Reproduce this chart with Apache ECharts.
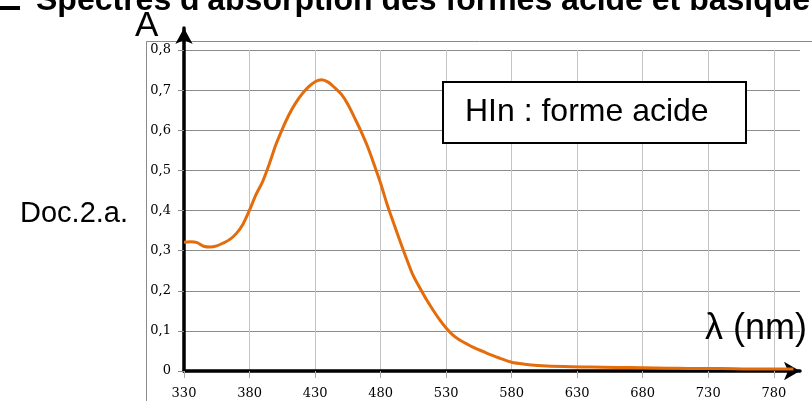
<!DOCTYPE html>
<html>
<head>
<meta charset="utf-8">
<script src="https://cdn.jsdelivr.net/npm/echarts@6/dist/echarts.min.js"></script>
<style>
html,body{margin:0;padding:0;background:#fff;}
#chart{width:812px;height:401px;}
</style>
</head>
<body>
<div id="chart"></div>
<script>
// Wavelength (nm) and absorbance of the acid form HIn
var lambdaNm = [330,335,340,345,350,355,360,365,370,375,380,385,390,395,400,405,410,415,420,425,430,435,440,445,450,455,460,465,470,475,480,485,490,495,500,505,510,515,520,525,530,535,540,545,550,560,570,580,590,600,620,640,660,680,700,720,740,760,780,795];
var absorbance = [0.321,0.322,0.320,0.311,0.309,0.312,0.319,0.328,0.343,0.366,0.401,0.440,0.472,0.515,0.563,0.603,0.638,0.667,0.690,0.708,0.721,0.726,0.720,0.706,0.690,0.665,0.632,0.598,0.560,0.515,0.468,0.415,0.368,0.322,0.278,0.237,0.207,0.178,0.152,0.128,0.107,0.090,0.078,0.069,0.060,0.046,0.033,0.022,0.017,0.014,0.011,0.010,0.009,0.008,0.007,0.006,0.006,0.005,0.005,0.005];
var xTicks = [330,380,430,480,530,580,630,680,730,780];

var seriesData = lambdaNm.map(function(l,i){return [l, absorbance[i]];});

var chart = echarts.init(document.getElementById('chart'));
var serif = '"DejaVu Serif", "Liberation Serif", serif';
var sans = '"Liberation Sans", Arial, sans-serif';

chart.setOption({
  animation:false,
  backgroundColor:'#ffffff',
  grid:[
    {left:184, top:50, width:616, height:321},
    {left:184, top:28, width:1, height:343}
  ],
  xAxis:[
    {type:'value', gridIndex:0, min:330, max:800,
     axisLine:{show:true, onZero:false, symbol:['none','arrow'], symbolSize:[14,16], lineStyle:{color:'#000', width:3.5}},
     axisTick:{show:true, customValues:xTicks, length:7, lineStyle:{color:'#aaaaaa', width:1}},
     axisLabel:{customValues:xTicks, margin:16, color:'#000', fontFamily:serif, fontSize:13},
     splitLine:{show:true, lineStyle:{color:'#c4c4c4', width:1}}
    },
    {type:'value', gridIndex:1, show:false, min:0, max:1}
  ],
  yAxis:[
    {type:'value', gridIndex:0, min:0, max:0.8, interval:0.1,
     axisLine:{show:false},
     axisTick:{show:true, length:6, lineStyle:{color:'#8c8c8c', width:1}},
     axisLabel:{margin:13, color:'#000', fontFamily:serif, fontSize:13,
       formatter:function(v){ return v===0 ? '0' : v.toFixed(1).replace('.', ','); }},
     splitLine:{show:true, lineStyle:{color:'#8c8c8c', width:1}}
    },
    {type:'value', gridIndex:1, min:0, max:1,
     axisLine:{show:true, onZero:false, symbol:['none','arrow'], symbolSize:[13,16], lineStyle:{color:'#000', width:3.5}},
     axisTick:{show:false}, axisLabel:{show:false}, splitLine:{show:false}
    }
  ],
  series:[
    {type:'line', xAxisIndex:0, yAxisIndex:0, data:seriesData, showSymbol:false, smooth:0.3,
     lineStyle:{color:'#E46C0A', width:3}, z:3}
  ],
  graphic:[
    {type:'rect', z:-10, shape:{x:146.5, y:41.5, width:700, height:400}, style:{fill:'none', stroke:'#8a8a8a', lineWidth:1}},
    {type:'rect', z:100, shape:{x:0, y:6, width:20, height:4}, style:{fill:'#000'}},
    {type:'text', z:100, x:36, y:1.5, style:{text:"Spectres d'absorption des formes acide et basique", font:'bold 32px '+sans, fill:'#000', verticalAlign:'middle'}},
    {type:'text', z:100, x:135, y:26, style:{text:'A', font:'35px '+sans, fill:'#000', verticalAlign:'middle'}},
    {type:'text', z:100, x:20, y:214, style:{text:'Doc.2.a.', font:'29px '+sans, fill:'#000', verticalAlign:'middle'}},
    {type:'text', z:100, x:705, y:329, style:{text:'λ (nm)', font:'36px '+sans, fill:'#000', verticalAlign:'middle'}},
    {type:'rect', z:100, shape:{x:443, y:82, width:303, height:61}, style:{fill:'#fff', stroke:'#000', lineWidth:2}},
    {type:'text', z:101, x:465, y:112, style:{text:'HIn : forme acide', font:'32px '+sans, fill:'#000', verticalAlign:'middle'}}
  ]
});
</script>
</body>
</html>
